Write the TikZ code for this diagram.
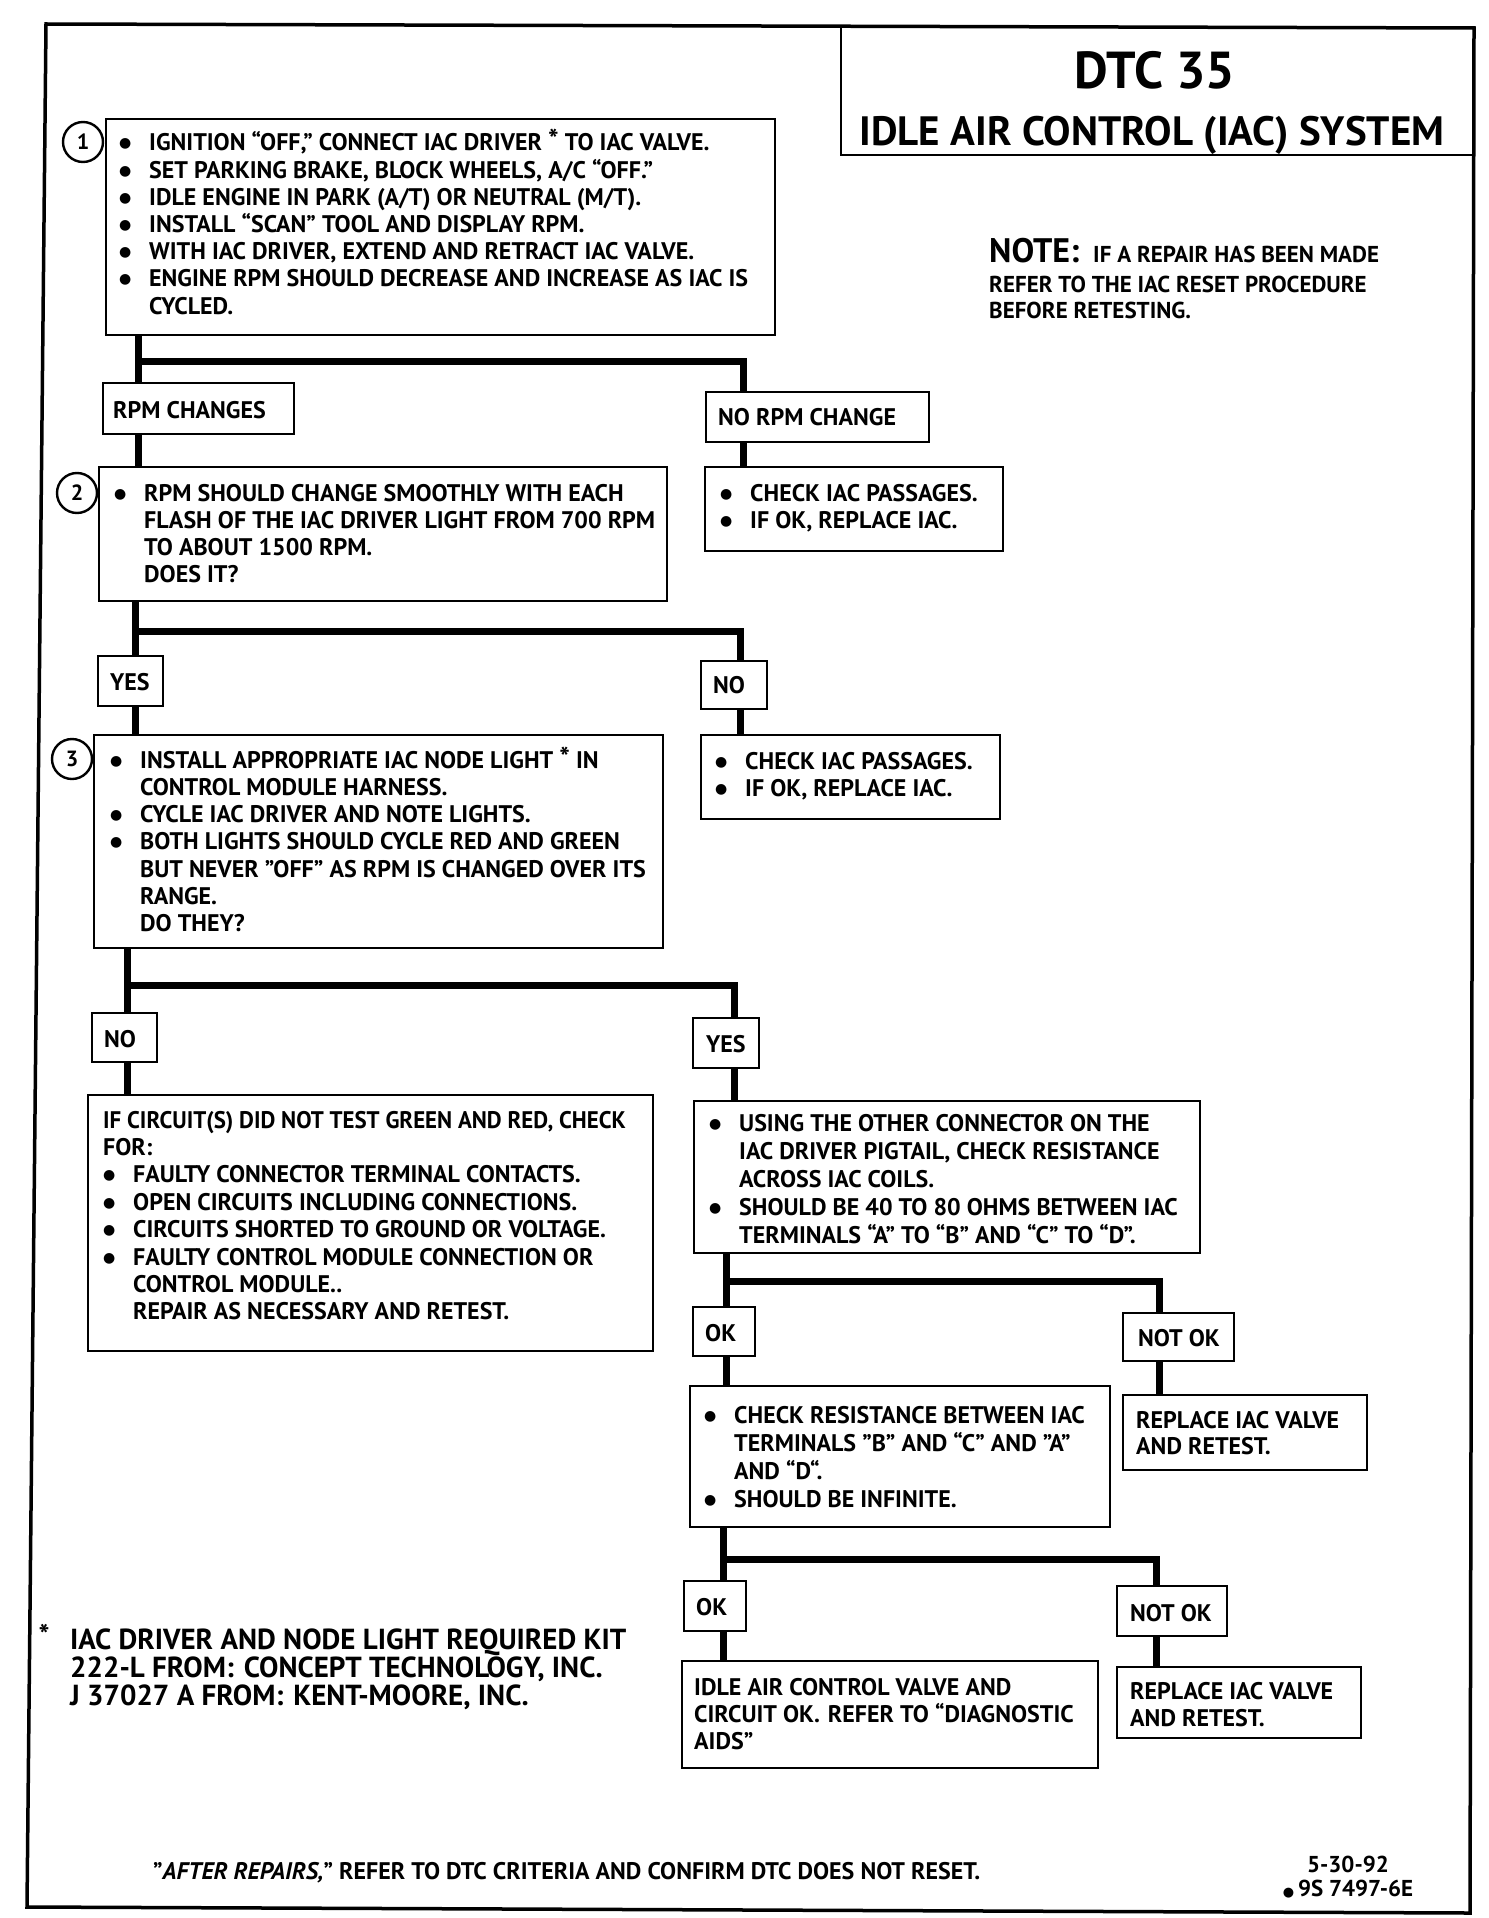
\documentclass[tikz,border=0pt]{standalone}
\usepackage{fontspec}
\usepackage{graphicx}
\setmainfont{PT Sans}
\newfontfamily\symf{DejaVu Sans}

\newcommand\bul{\makebox[30pt][l]{\raisebox{3pt}{\symf\fontsize{14}{14}\selectfont ●}}}
\newcommand\ind{\hspace*{30pt}}
\newcommand\st{\raisebox{1pt}{\fontsize{28}{28}\selectfont *}}

\tikzset{
 box/.style={draw, line width=2.4pt, inner sep=0pt, outer sep=0pt, anchor=north west},
 txt/.style={anchor=base west, inner sep=0pt, font=\bfseries\fontsize{24}{28}\selectfont},
 conn/.style={line width=7pt, line join=miter},
 frame/.style={line width=3.5pt, line join=miter},
 num/.style={circle, draw, line width=2.4pt, minimum size=40pt, inner sep=0pt, fill=white, font=\bfseries\fontsize{22}{24}\selectfont},
}
\newcommand\bx[5]{\node[box, minimum width={(#4-#2)*1pt}, minimum height={(#5-#3)*1pt}] (#1) at (#2,#3) {};}
\newcommand\txtlines[5]{\foreach \tx [count=\i] in {#5} {\node[txt] (#1-\i) at (#2,{#3+(\i-1)*#4}) {\tx};}}

\begin{document}
\begin{tikzpicture}[x=1pt,y=-1pt]
\useasboundingbox (0,0) rectangle (1488,1918);
% frame
\draw[frame] (46,24) -- (1474,28) -- (1470,1913) -- (27,1907) -- cycle;
\draw[line width=2.4pt] (841,25) -- (841,155) -- (1473,155);
\node[anchor=base, inner sep=0pt, font=\bfseries\fontsize{52}{56}\selectfont] (title1) at (1155,89) {DTC 35};
\node[anchor=base, inner sep=0pt, font=\bfseries\fontsize{41}{46}\selectfont] (title2) at (1152,146) {IDLE AIR CONTROL (IAC) SYSTEM};
% note
\node[anchor=base west, inner sep=0pt, font=\bfseries\fontsize{23}{26}\selectfont] (note1) at (989,262) {{\fontsize{34}{36}\selectfont NOTE:}\hspace{14pt}IF A REPAIR HAS BEEN MADE};
\node[anchor=base west, inner sep=0pt, font=\bfseries\fontsize{23}{26}\selectfont] (note2) at (989,292) {REFER TO THE IAC RESET PROCEDURE};
\node[anchor=base west, inner sep=0pt, font=\bfseries\fontsize{23}{26}\selectfont] (note3) at (989,318) {BEFORE RETESTING.};

% boxes
\bx{b1}{106}{119}{775}{335}
\bx{rpm}{103}{383}{294}{434}
\bx{norpm}{706}{392}{929}{442}
\bx{b2}{99}{467}{667}{601}
\bx{bA}{705}{467}{1003}{551}
\bx{yes1}{98}{656}{163}{706}
\bx{no1}{701}{661}{767}{709}
\bx{b3}{94}{735}{663}{948}
\bx{bB}{701}{735}{1000}{819}
\bx{no2}{92}{1013}{157}{1062}
\bx{yes2}{693}{1018}{759}{1068}
\bx{b4}{88}{1095}{653}{1351}
\bx{b5}{694}{1101}{1200}{1253}
\bx{ok1}{693}{1307}{755}{1356}
\bx{notok1}{1123}{1313}{1234}{1361}
\bx{b6}{690}{1386}{1110}{1527}
\bx{b7}{1123}{1395}{1367}{1470}
\bx{ok2}{684}{1581}{746}{1631}
\bx{notok2}{1117}{1586}{1227}{1636}
\bx{b8}{682}{1661}{1098}{1768}
\bx{b9}{1117}{1667}{1361}{1738}

% step numbers
\node[num] (n1) at (83,142) {1};
\node[num] (n2) at (77,493) {2};
\node[num] (n3) at (72,759) {3};

% texts
\txtlines{t1}{119}{151}{27.2}{
 {\bul IGNITION “OFF,” CONNECT IAC DRIVER \st\ TO IAC VALVE.},
 {\bul SET PARKING BRAKE, BLOCK WHEELS, A/C “OFF.”},
 {\bul IDLE ENGINE IN PARK (A/T) OR NEUTRAL (M/T).},
 {\bul INSTALL “SCAN” TOOL AND DISPLAY RPM.},
 {\bul WITH IAC DRIVER, EXTEND AND RETRACT IAC VALVE.},
 {\bul ENGINE RPM SHOULD DECREASE AND INCREASE AS IAC IS},
 {\ind CYCLED.}}
\node[txt] (trpm) at (113,418) {RPM CHANGES};
\node[txt] (tnorpm) at (718,425) {NO RPM CHANGE};
\txtlines{t2}{114}{501}{27}{
 {\bul RPM SHOULD CHANGE SMOOTHLY WITH EACH},
 {\ind FLASH OF THE IAC DRIVER LIGHT FROM 700 RPM},
 {\ind TO ABOUT 1500 RPM.},
 {\ind DOES IT?}}
\txtlines{tA}{720}{501}{27}{
 {\bul CHECK IAC PASSAGES.},
 {\bul IF OK, REPLACE IAC.}}
\node[txt] (tyes1) at (110,690) {YES};
\node[txt] (tno1) at (713,693) {NO};
\txtlines{t3}{110}{768}{27.3}{
 {\bul INSTALL APPROPRIATE IAC NODE LIGHT \st\ IN},
 {\ind CONTROL MODULE HARNESS.},
 {\bul CYCLE IAC DRIVER AND NOTE LIGHTS.},
 {\bul BOTH LIGHTS SHOULD CYCLE RED AND GREEN},
 {\ind BUT NEVER "OFF" AS RPM IS CHANGED OVER ITS},
 {\ind RANGE.},
 {\ind DO THEY?}}
\txtlines{tB}{715}{769}{27.3}{
 {\bul CHECK IAC PASSAGES.},
 {\bul IF OK, REPLACE IAC.}}
\node[txt] (tno2) at (104,1047) {NO};
\node[txt] (tyes2) at (706,1052) {YES};
\txtlines{t4}{103}{1128}{27.4}{
 {\scalebox{0.955}[1]{IF CIRCUIT(S) DID NOT TEST GREEN AND RED, CHECK}},
 {FOR:},
 {\bul FAULTY CONNECTOR TERMINAL CONTACTS.},
 {\bul OPEN CIRCUITS INCLUDING CONNECTIONS.},
 {\bul CIRCUITS SHORTED TO GROUND OR VOLTAGE.},
 {\bul FAULTY CONTROL MODULE CONNECTION OR},
 {\ind CONTROL MODULE..},
 {\ind REPAIR AS NECESSARY AND RETEST.}}
\txtlines{t5}{709}{1131}{28}{
 {\bul USING THE OTHER CONNECTOR ON THE},
 {\ind IAC DRIVER PIGTAIL, CHECK RESISTANCE},
 {\ind ACROSS IAC COILS.},
 {\bul SHOULD BE 40 TO 80 OHMS BETWEEN IAC},
 {\ind TERMINALS “A” TO “B” AND “C” TO “D”.}}
\node[txt] (tok1) at (705,1341) {OK};
\node[txt] (tnotok1) at (1138,1346) {NOT OK};
\txtlines{t6}{704}{1423}{28}{
 {\bul CHECK RESISTANCE BETWEEN IAC},
 {\ind TERMINALS "B" AND “C” AND "A"},
 {\ind AND “D“.},
 {\bul SHOULD BE INFINITE.}}
\txtlines{t7}{1136}{1428}{26}{
 {REPLACE IAC VALVE},
 {AND RETEST.}}
\node[txt] (tok2) at (696,1615) {OK};
\node[txt] (tnotok2) at (1130,1621) {NOT OK};
\txtlines{t8}{694}{1695}{27}{
 {IDLE AIR CONTROL VALVE AND},
 {CIRCUIT OK.\hspace{8pt}REFER TO “DIAGNOSTIC},
 {AIDS”}}
\txtlines{t9}{1130}{1699}{27}{
 {REPLACE IAC VALVE},
 {AND RETEST.}}

% connectors
\coordinate (j1) at (138,361); \coordinate (j1r) at (743,361);
\draw[conn] (b1.south -| j1) -- (rpm.north -| j1);
\draw[conn] (j1) -- (j1r) -- (j1r |- norpm.north);
\draw[conn] (rpm.south -| j1) -- (b2.north -| j1);
\draw[conn] (norpm.south -| j1r) -- (bA.north -| j1r);

\coordinate (j2) at (135,631); \coordinate (j2r) at (740,631);
\draw[conn] (b2.south -| j2) -- (yes1.north -| j2);
\draw[conn] (j2) -- (j2r) -- (j2r |- no1.north);
\draw[conn] (yes1.south -| j2) -- (b3.north -| j2);
\draw[conn] (no1.south -| j2r) -- (bB.north -| j2r);

\coordinate (j3) at (127,985); \coordinate (j3r) at (734,985);
\draw[conn] (b3.south -| j3) -- (no2.north -| j3);
\draw[conn] (j3) -- (j3r) -- (j3r |- yes2.north);
\draw[conn] (no2.south -| j3) -- (b4.north -| j3);
\draw[conn] (yes2.south -| j3r) -- (b5.north -| j3r);

\coordinate (j4) at (726,1281); \coordinate (j4r) at (1159,1281);
\draw[conn] (b5.south -| j4) -- (ok1.north -| j4);
\draw[conn] (j4) -- (j4r) -- (j4r |- notok1.north);
\draw[conn] (ok1.south -| j4) -- (b6.north -| j4);
\draw[conn] (notok1.south -| j4r) -- (b7.north -| j4r);

\coordinate (j5) at (723,1559); \coordinate (j5r) at (1156,1559);
\draw[conn] (b6.south -| j5) -- (ok2.north -| j5);
\draw[conn] (j5) -- (j5r) -- (j5r |- notok2.north);
\draw[conn] (ok2.south -| j5) -- (b8.north -| j5);
\draw[conn] (notok2.south -| j5r) -- (b9.north -| j5r);

% footnote
\node[anchor=base, inner sep=0pt, font=\bfseries\fontsize{29}{30}\selectfont] (fstar) at (44,1645) {*};
\node[anchor=base west, inner sep=0pt, font=\bfseries\fontsize{29}{32}\selectfont] (f1) at (70,1649) {IAC DRIVER AND NODE LIGHT REQUIRED KIT};
\node[anchor=base west, inner sep=0pt, font=\bfseries\fontsize{29}{32}\selectfont] (f2) at (70,1677) {222-L FROM:\hspace{10pt}CONCEPT TECHNOLOGY, INC.};
\node[anchor=base west, inner sep=0pt, font=\bfseries\fontsize{29}{32}\selectfont] (f3) at (70,1705) {J 37027 A FROM:\hspace{10pt}KENT-MOORE, INC.};

% bottom
\node[txt] (after) at (153,1879) {"\textit{AFTER REPAIRS,}" REFER TO DTC CRITERIA AND CONFIRM DTC DOES NOT RESET.};
\node[anchor=base, inner sep=0pt, font=\bfseries\fontsize{23}{26}\selectfont] (date) at (1348,1872) {5-30-92};
\node[anchor=base, inner sep=0pt, font=\bfseries\fontsize{23}{26}\selectfont] (code) at (1348,1896) {{\symf\fontsize{13}{13}\selectfont ●}\,9S 7497-6E};
\end{tikzpicture}
\end{document}
